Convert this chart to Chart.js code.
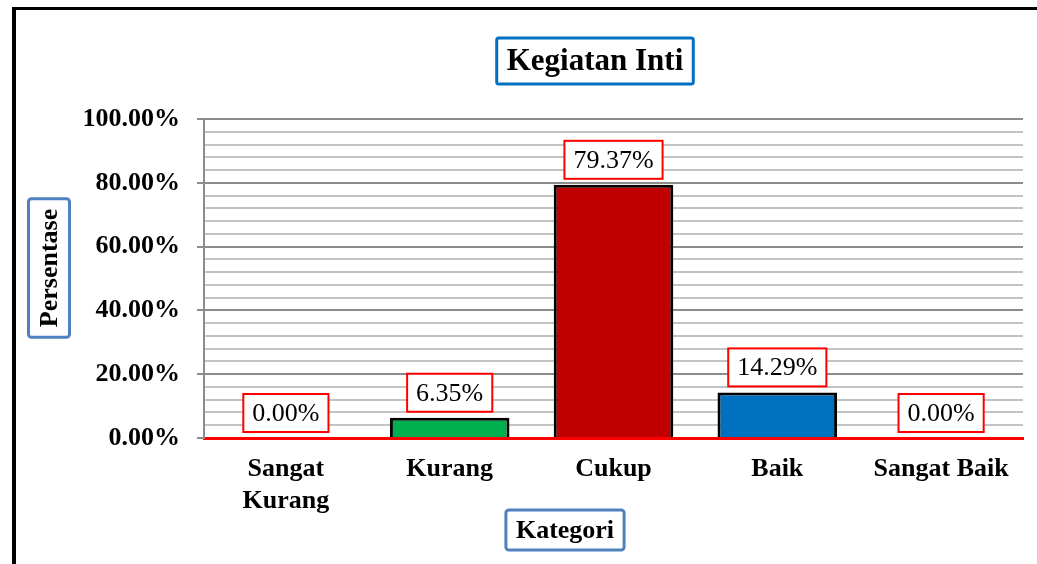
<!DOCTYPE html>
<html>
<head>
<meta charset="utf-8">
<script src="https://cdn.jsdelivr.net/npm/chart.js@4"></script>
<style>
body{margin:0;background:#fff;}
#wrap{width:1037px;height:564px;}
</style>
</head>
<body>
<div id="wrap"><canvas id="chartKegiatan" width="1037" height="564"></canvas></div>
<script>
// data
const categories = [["Sangat", "Kurang"], "Kurang", "Cukup", "Baik", "Sangat Baik"];
const percentages = [0.00, 6.35, 79.37, 14.29, 0.00];
const barColors = ["#00B050", "#00B050", "#C00000", "#0070C0", "#0070C0"];

const chartTitle = "Kegiatan Inti";
const yTitle = "Persentase";
const xTitle = "Kategori";

const SERIF = "'Liberation Serif', 'Times New Roman', serif";

function boxedText(ctx, text, cx, cy, font, border, pad, h, rot){
ctx.save();
ctx.font = font;
const w = ctx.measureText(text).width + pad*2;
ctx.translate(cx, cy);
if(rot) ctx.rotate(rot);
ctx.fillStyle = "#fff";
ctx.fillRect(-w/2, -h/2, w, h);
ctx.strokeStyle = border.color;
ctx.lineWidth = border.width;
ctx.beginPath();
if(ctx.roundRect) ctx.roundRect(-w/2, -h/2, w, h, border.radius || 0);
else ctx.rect(-w/2, -h/2, w, h);
ctx.stroke();
ctx.fillStyle = "#000";
ctx.textAlign = "center";
ctx.textBaseline = "middle";
ctx.fillText(text, 0, 1);
ctx.restore();
}

const decorPlugin = {
id: "decor",
beforeDraw(chart){
const ctx = chart.ctx;
ctx.save();
ctx.fillStyle = "#fff";
ctx.fillRect(0, 0, chart.width, chart.height);
ctx.fillStyle = "#000";
ctx.fillRect(12, 7, chart.width - 12, 3);
ctx.fillRect(12, 7, 4, chart.height - 7);
ctx.restore();
},
afterDraw(chart){
const ctx = chart.ctx;
boxedText(ctx, chartTitle, 595, 61, "bold 31px " + SERIF, {color:"#0070C0", width:3, radius:2}, 10, 46);
boxedText(ctx, yTitle, 49, 268, "bold 26px " + SERIF, {color:"#4F81BD", width:3, radius:3}, 10, 41, -Math.PI/2);
boxedText(ctx, xTitle, 565, 530, "bold 26px " + SERIF, {color:"#4F81BD", width:3, radius:3}, 10, 40);
}
};

const labelPlugin = {
id: "barLabels",
afterDraw(chart){
const ctx = chart.ctx;
const meta = chart.getDatasetMeta(0);
meta.data.forEach((bar, i) => {
const txt = percentages[i].toFixed(2) + "%";
ctx.save();
ctx.font = "26px " + SERIF;
const w = ctx.measureText(txt).width + 18;
const h = 38;
const bottom = bar.y - 6;
ctx.fillStyle = "#fff";
ctx.fillRect(bar.x - w/2, bottom - h, w, h);
ctx.strokeStyle = "#FF0000";
ctx.lineWidth = 2;
ctx.strokeRect(bar.x - w/2, bottom - h, w, h);
ctx.fillStyle = "#000";
ctx.textAlign = "center";
ctx.textBaseline = "middle";
ctx.fillText(txt, bar.x, bottom - h/2 + 1);
ctx.restore();
});
}
};

new Chart(document.getElementById("chartKegiatan"), {
type: "bar",
data: {
labels: categories,
datasets: [{
label: chartTitle,
data: percentages,
backgroundColor: barColors,
borderColor: "#000",
borderWidth: 3,
borderSkipped: "bottom",
barPercentage: 0.73,
categoryPercentage: 1
}]
},
options: {
responsive: false,
animation: false,
layout: {padding: {top: 119, right: 14, bottom: 0, left: 0}},
plugins: {legend: {display: false}, title: {display: false}, tooltip: {enabled: false}},
scales: {
x: {
z: 1,
grid: {display: false, drawTicks: false},
border: {display: true, color: "#FF0000", width: 3},
ticks: {color: "#000", font: {family: SERIF, size: 26, weight: "bold"}, padding: 16, maxRotation: 0, autoSkip: false},
afterFit(s){ s.height = 126; }
},
y: {
min: 0,
max: 100,
grid: {
color: c => c.tick && c.tick.value === 0 ? "rgba(0,0,0,0)" : (c.tick && c.tick.value % 20 === 0 ? "#8C8C8C" : "#C3C3C3"),
lineWidth: 2,
tickColor: c => c.tick && c.tick.value % 20 === 0 ? "#8C8C8C" : "rgba(0,0,0,0)",
tickLength: 7,
tickWidth: 2
},
border: {display: true, color: "#8C8C8C", width: 2},
ticks: {
stepSize: 4,
autoSkip: false,
padding: 17,
color: "#000",
font: {family: SERIF, size: 26, weight: "bold"},
callback: v => v % 20 === 0 ? v.toFixed(2) + "%" : ""
},
afterFit(s){ s.width = 204; }
}
}
},
plugins: [decorPlugin, labelPlugin]
});
</script>
</body>
</html>
